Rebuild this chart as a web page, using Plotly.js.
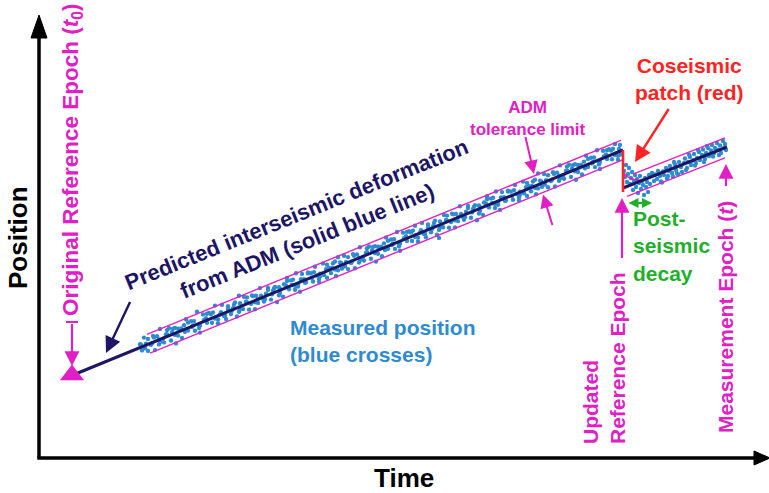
<!DOCTYPE html>
<html>
<head>
<meta charset="utf-8">
<script src="https://cdn.plot.ly/plotly-3.0.1.min.js"></script>
<style>html,body{margin:0;padding:0;background:#fff;}#chart{width:769px;height:493px;}</style>
</head>
<body>
<div id="chart"></div>
<script>
// ---- Data (time, position) ----
const modelTime = [73, 623];
const modelPos = [118, 343];
const postModelTime = [623, 727];
const postModelPos = [305, 346];
const tolUpperTime = [147, 621];
const tolUpperPos = [158.7, 352.6];
const tolLowerTime = [150, 622];
const tolLowerPos = [139.9, 332.9];
const postTolUpperTime = [633, 725];
const postTolUpperPos = [318.9, 355.2];
const postTolLowerTime = [627, 725];
const postTolLowerPos = [296.6, 335.2];
const decayTime = [623, 626, 630, 634, 638, 642, 646];
const decayPos = [321, 317.5, 315, 313.5, 313, 313.2, 314.1];
const coseismicTime = [623, 623];
const coseismicPos = [343, 301];
const refEpochTime = [72];
const refEpochPos = [118];

const measTime = [
140,142,144,146,148, 151,153,155,157,159, 160,163,164,167,169, 171,172,175,176,178,
180,182,184,186,188, 191,193,195,197,199, 200,203,204,207,209, 211,212,215,216,218,
220,222,224,226,228, 231,233,235,237,239, 240,243,244,247,249, 251,252,255,256,258,
260,262,264,266,268, 271,273,275,277,279, 280,283,284,287,289, 291,292,295,296,298,
300,302,304,306,308, 311,313,315,317,319, 320,323,324,327,329, 331,332,335,336,338,
340,342,344,346,348, 351,353,355,357,359, 360,363,364,367,369, 371,372,375,376,378,
380,382,384,386,388, 391,393,395,397,399, 400,403,404,407,409, 411,412,415,416,418,
420,422,424,426,428, 431,433,435,437,439, 440,443,444,447,449, 451,452,455,456,458,
460,462,464,466,468, 471,473,475,477,479, 480,483,484,487,489, 491,492,495,496,498,
500,502,504,506,508, 511,513,515,517,519, 520,523,524,527,529, 531,532,535,536,538,
540,542,544,546,548, 551,553,555,557,559, 560,563,564,567,569, 571,572,575,576,578,
580,582,584,586,588, 591,593,595,597,599, 600,603,604,607,609, 611,612,615,616,618,
620,621,619,
141,145,148, 152,154,159, 160,166,167, 173,175,178, 181,185,188, 192,194,199,
200,206,207, 213,215,218, 221,225,228, 232,234,239, 240,246,247, 253,255,258,
261,265,268, 272,274,279, 280,286,287, 293,295,298, 301,305,308, 312,314,319,
320,326,327, 333,335,338, 341,345,348, 352,354,359, 360,366,367, 373,375,378,
381,385,388, 392,394,399, 400,406,407, 413,415,418, 421,425,428, 432,434,439,
440,446,447, 453,455,458, 461,465,468, 472,474,479, 480,486,487, 493,495,498,
501,505,508, 512,514,519, 520,526,527, 533,535,538, 541,545,548, 552,554,559,
560,566,567, 573,575,578, 581,585,588, 592,594,599, 600,606,607, 613,615,618,
624,625,626,627,628,629,630,631,632,633,634,635,636,637,638,639,640,641,642,643,
644,645,646,647,648,649,650,
652,654,655,657,658,660,661,663,664,666,667,669,670,672,673,675,676,678,679,681,
682,684,685,687,688,690,691,693,694,696,697,699,700,702,703,705,706,708,709,711,
712,714,715,717,718,720,721,723,724,725,726,662,668,677,686,695,704,713,719,689,
698,707,674
];
const measPos = [
148.8,142.6,155.4,149.3,142.1, 148.3,157.1,142.9,156.8,153.6, 164.0,154.2,150.6,158.9,164.7, 152.5,160.9,165.1,149.6,164.4,
163.2,155.0,167.8,173.7,162.5, 171.7,167.5,162.3,181.2,168.0, 160.4,178.6,173.0,170.3,180.1, 178.8,170.2,187.4,175.9,169.7,
178.5,188.3,177.1,174.0,183.8, 179.0,184.8,190.6,176.5,197.3, 189.7,183.9,196.3,190.6,183.4, 189.2,197.6,183.8,197.3,194.1,
204.9,194.7,191.5,199.4,205.2, 193.4,202.2,206.0,190.9,205.7, 204.1,196.3,208.7,215.0,203.8, 212.6,208.0,203.2,219.7,208.5,
201.3,219.1,213.9,210.8,220.6, 219.7,211.5,226.3,217.2,211.0, 219.4,229.6,218.0,215.3,225.1, 219.9,225.3,231.5,217.0,235.8,
230.6,224.4,237.2,231.1,223.9, 230.1,238.9,224.7,238.6,235.4, 245.8,236.0,232.4,240.7,246.5, 234.3,242.7,246.9,231.4,246.2,
245.0,236.8,249.6,255.5,244.3, 253.5,249.3,244.1,261.0,249.8, 242.2,260.4,254.8,252.1,261.9, 260.6,252.0,267.2,257.7,251.5,
260.3,270.1,258.9,255.8,265.6, 260.8,266.6,272.4,258.3,255.1, 271.5,265.7,278.1,272.4,265.2, 271.0,279.4,265.6,279.1,275.9,
286.7,276.5,273.3,281.2,287.0, 275.2,284.0,287.8,272.7,287.5, 285.9,278.1,290.5,296.8,285.6, 294.4,289.8,285.0,301.5,290.3,
283.1,300.9,295.7,292.6,302.4, 301.5,293.3,308.1,299.0,292.8, 301.2,311.4,299.8,297.1,306.9, 301.7,307.1,313.3,298.8,319.6,
312.4,306.2,319.0,312.9,305.7, 311.9,320.7,306.5,320.4,317.2, 327.6,317.8,314.2,322.5,328.3, 316.1,324.5,328.7,313.2,328.0,
326.8,318.6,331.4,337.3,326.1, 335.3,331.1,325.9,342.8,331.6, 324.0,342.2,336.6,333.9,343.7, 342.4,333.8,349.0,339.5,333.3,
348.1,338.5,344.0,
148.2,144.8,154.1, 149.7,155.5,148.6, 151.0,158.5,162.9, 164.3,158.1,157.4, 164.6,161.2,170.5, 166.1,171.9,165.0,
167.4,174.9,179.3, 180.6,174.4,173.7, 180.9,177.5,186.8, 182.4,188.2,181.3, 183.7,191.2,195.6, 197.0,190.8,190.1,
197.3,193.9,203.2, 198.8,204.6,197.7, 200.1,207.6,212.0, 213.4,207.2,206.5, 213.7,210.3,219.6, 215.1,220.9,214.0,
216.4,223.9,228.3, 229.7,223.5,222.8, 230.0,226.6,235.9, 231.5,237.3,230.4, 232.8,240.3,244.7, 246.1,239.9,239.2,
246.4,243.0,252.3, 247.9,253.7,246.8, 249.2,256.7,261.1, 262.4,256.2,255.5, 262.7,259.3,268.6, 264.2,270.0,263.1,
265.5,273.0,277.4, 278.8,272.6,271.9, 279.1,275.7,285.0, 280.6,286.4,279.5, 281.9,289.4,293.8, 295.2,289.0,288.3,
295.5,292.1,301.4, 296.9,302.7,295.8, 298.2,305.7,310.1, 311.5,305.3,304.6, 311.8,308.4,317.7, 313.3,319.1,312.2,
314.6,322.1,326.5, 327.9,321.7,321.0, 328.2,324.8,334.1, 329.7,335.5,328.6, 331.0,338.5,342.9, 344.2,338.0,337.3,
322,316,328,311,319,325,309,315,321,303,312,318,306,314,300,310,317,304,312,308,
298,315,306,311,301,318,309,
320,312,318.5,314,322,317,311.5,321.5,318,325,314.5,322,327,320,316.5,328.5,323,319,331,326,
321,330,334.5,325,331,336,328,332.5,339,330,335,341,333,338,343.5,334,340,345,337,342.5,
348,340,345,350,343,347.5,340,352,345,349,343,310.5,317,319.5,323,327.5,331,336.5,338,338.5,
343,347,331
];

const MAG = '#e020c4';
const NAVY = '#1d1666';
const BLUE = '#2f8bd0';
const RED = '#ff2424';
const GREEN = '#1fb02a';
const FONT = 'Liberation Sans, Arial, sans-serif';

const traces = [
  {x: measTime, y: measPos, mode: 'markers', type: 'scatter',
   marker: {color: BLUE, size: 4.4, opacity: 1}, hoverinfo: 'skip', cliponaxis: false},
  {x: tolUpperTime, y: tolUpperPos, mode: 'lines', line: {color: MAG, width: 1.4}},
  {x: tolLowerTime, y: tolLowerPos, mode: 'lines', line: {color: MAG, width: 1.4}},
  {x: postTolUpperTime, y: postTolUpperPos, mode: 'lines', line: {color: MAG, width: 1.4}},
  {x: postTolLowerTime, y: postTolLowerPos, mode: 'lines', line: {color: MAG, width: 1.4}},
  {x: decayTime, y: decayPos, mode: 'lines', line: {color: MAG, width: 1.6, shape: 'spline'}},
  {x: modelTime, y: modelPos, mode: 'lines', line: {color: NAVY, width: 3}},
  {x: postModelTime, y: postModelPos, mode: 'lines', line: {color: NAVY, width: 3}},
  {x: coseismicTime, y: coseismicPos, mode: 'lines', line: {color: RED, width: 2.6}},
  {x: refEpochTime, y: refEpochPos, mode: 'markers',
   marker: {symbol: 'triangle-up', size: 21, color: MAG}, cliponaxis: false}
];

function arrow(x, y, ax, ay, color, width, extra) {
  return Object.assign({x: x, y: y, ax: ax, ay: ay, xref: 'x', yref: 'y', axref: 'x', ayref: 'y',
    text: ' ', showarrow: true, arrowhead: 2, arrowsize: 1.35, arrowwidth: width, arrowcolor: color,
    standoff: 0, startstandoff: 0, font: {size: 1}}, extra || {});
}
function label(text, x, y, size, color, extra) {
  return Object.assign({x: x, y: y, xref: 'x', yref: 'y', text: text, showarrow: false,
    font: {family: FONT, size: size, color: color, weight: 'bold'},
    xanchor: 'center', yanchor: 'middle'}, extra || {});
}

const annotations = [
  label('Position', 18, 255, 26, '#000', {textangle: -90}),
  label('Time', 404, 15, 26, '#000'),
  label('Original Reference Epoch (<i>t</i><sub>0</sub>)', 72, 333, 22.5, MAG, {textangle: -90}),
  label('Predicted interseismic deformation<br>from ADM (solid blue line)', 302, 265, 22, NAVY, {textangle: -22}),
  label('Measured position<br>(blue crosses)', 288, 152, 21, BLUE, {xanchor: 'left', align: 'left'}),
  label('ADM<br>tolerance limit', 528, 375, 17, MAG),
  label('Coseismic<br>patch (red)', 689, 414, 21, RED),
  label('Post-<br>seismic<br>decay', 631, 247, 21, GREEN, {xanchor: 'left', align: 'left'}),
  label('Updated<br>Reference Epoch', 604, 135, 21, MAG, {textangle: -90, align: 'left'}),
  label('Measurement Epoch (<i>t</i>)', 725, 176, 21, MAG, {textangle: -90}),
  arrow(72, 127, 72, 171, MAG, 2.2),
  arrow(106, 140, 131, 193, NAVY, 2.4),
  arrow(534, 319, 525, 358, MAG, 2),
  arrow(543, 298.6, 553, 266, MAG, 2),
  arrow(635, 331, 670, 386, RED, 2.4),
  arrow(622, 295, 622, 233, MAG, 2.2),
  arrow(726, 329, 726, 305, MAG, 2.2),
  arrow(652, 290, 627, 290, GREEN, 2, {arrowside: 'end+start', arrowsize: 1})
];

const shapes = [
  {type: 'line', xref: 'x', yref: 'y', x0: 39, y0: 35, x1: 39, y1: 462, line: {color: '#000', width: 3.5}},
  {type: 'path', xref: 'x', yref: 'y', path: 'M 39 478 L 31 455 L 47 455 Z', fillcolor: '#000', line: {color: '#000', width: 1}},
  {type: 'line', xref: 'x', yref: 'y', x0: 37.3, y0: 35, x1: 758, y1: 35, line: {color: '#000', width: 3.5}},
  {type: 'path', xref: 'x', yref: 'y', path: 'M 770 35 L 754 28 L 754 42 Z', fillcolor: '#000', line: {color: '#000', width: 1}},
  {type: 'line', xref: 'x', yref: 'y', x0: 66, y0: 171, x1: 78, y1: 171, line: {color: MAG, width: 2}}
];

const layout = {
  width: 769, height: 493,
  margin: {l: 0, r: 0, t: 0, b: 0},
  paper_bgcolor: '#fff', plot_bgcolor: '#fff',
  showlegend: false,
  xaxis: {range: [0, 769], visible: false, fixedrange: true},
  yaxis: {range: [0, 493], visible: false, fixedrange: true},
  annotations: annotations,
  shapes: shapes
};

Plotly.newPlot('chart', traces, layout, {displayModeBar: false, staticPlot: true});
</script>
</body>
</html>
